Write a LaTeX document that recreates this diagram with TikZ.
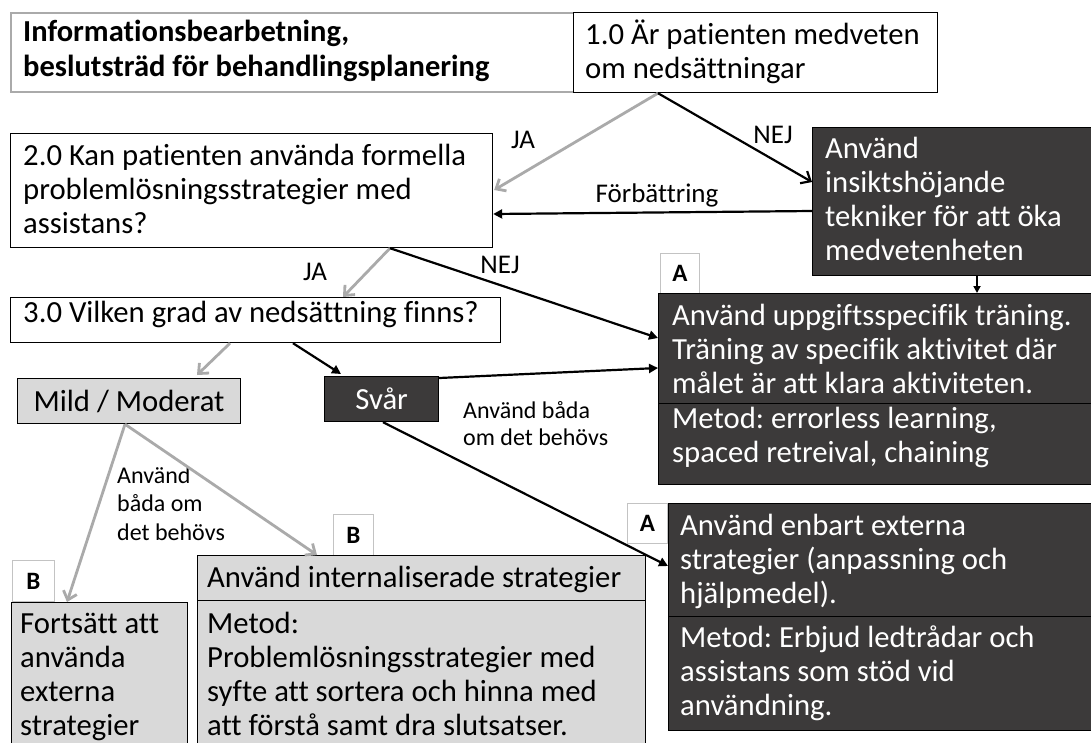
\documentclass[tikz,border=0pt]{standalone}
\usepackage{fontspec}
\setmainfont{Carlito}[Ligatures={NoCommon}]
\usetikzlibrary{arrows.meta,calc}
\definecolor{dk}{RGB}{60,58,58}
\definecolor{lg}{RGB}{217,217,217}
\definecolor{ga}{RGB}{170,170,170}
\definecolor{tg}{RGB}{195,195,195}
\newcommand\tstr{\rule{0pt}{27pt}}
\newcommand\sstr{\rule{0pt}{22pt}}
\frenchspacing
\begin{document}
\begin{tikzpicture}[x=1pt,y=-1pt,
 wbox/.style={draw=black, line width=1.2pt, fill=white, inner sep=0, anchor=north west},
 tbox/.style={draw=ga, line width=1.5pt, fill=white, inner sep=0, anchor=north west},
 dbox/.style={draw=black, line width=1.2pt, fill=dk, inner sep=0, anchor=north west},
 lbox/.style={draw=black, line width=1.2pt, fill=lg, inner sep=0, anchor=north west},
 tag/.style={draw=tg, line width=1pt, fill=white, inner sep=0, anchor=north west, font=\fontsize{25}{28}\selectfont\bfseries},
 txt/.style={anchor=north west, inner sep=0, align=left, font=\fontsize{30.7}{34}\selectfont},
 wtxt/.style={txt, text=white},
 lab/.style={inner sep=0, font=\fontsize{27}{30}\selectfont},
 slab/.style={anchor=north west, inner sep=0, align=left, font=\fontsize{24}{27.5}\selectfont},
 blk/.style={draw=black, line width=2.2pt, -{Triangle[length=9pt,width=9pt]}},
 blv/.style={draw=black, line width=2.2pt, -{Straight Barb[length=8pt,width=14pt]}},
 gry/.style={draw=ga, line width=2.8pt, -{Straight Barb[length=8pt,width=14pt]}},
]
\clip (0,0) rectangle (1091,742);
\fill[white] (0,0) rectangle (1091,742);

% boxes
\node[tbox, minimum width=563, minimum height=79] (title) at (10,12) {};
\node[txt, font=\fontsize{30.5}{35}\selectfont\bfseries] (titletext) at (23,14) {\tstr Informationsbearbetning,\\beslutsträd för behandlingsplanering};

\node[wbox, minimum width=364, minimum height=80] (q1) at (573,12) {};
\node[txt] (q1text) at (585,17) {\tstr 1.0 Är patienten medveten\\om nedsättningar};

\node[wbox, minimum width=482, minimum height=114] (q2) at (10,133) {};
\node[txt] (q2text) at (23,138) {\tstr 2.0 Kan patienten använda formella\\problemlösningsstrategier med\\assistans?};

\node[dbox, minimum width=280, minimum height=148] (d1) at (812,127) {};
\node[wtxt] (d1text) at (825,131) {\tstr Använd\\insiktshöjande\\tekniker för att öka\\medvetenheten};

\node[tag, minimum width=39, minimum height=40] (tagA1) at (660,253) {A};
\node[dbox, minimum width=434, minimum height=110] (d2) at (658,293) {};
\node[dbox, minimum width=434, minimum height=81] (d2b) at (658,403) {};
\node[wtxt] (d2text) at (672,298) {\tstr Använd uppgiftsspecifik träning.\\Träning av specifik aktivitet där\\målet är att klara aktiviteten.};
\node[wtxt] (d2btext) at (672,401) {\tstr Metod: errorless learning,\\spaced retreival, chaining};

\node[wbox, minimum width=490, minimum height=45] (q3) at (10,297) {};
\node[txt] (q3text) at (23,295) {\tstr 3.0 Vilken grad av nedsättning finns?};

\node[lbox, minimum width=223, minimum height=45, font=\fontsize{30.7}{34}\selectfont] (mild) at (17,378) {Mild / Moderat};
\node[dbox, minimum width=114, minimum height=45, text=white, font=\fontsize{30.7}{34}\selectfont] (svar) at (324,376) {Svår};

\node[tag, minimum width=42, minimum height=41] (tagB1) at (12,560) {B};
\node[lbox, minimum width=176, minimum height=160] (fort) at (11,602) {};
\node[txt] (forttext) at (20,606) {\tstr Fortsätt att\\använda\\externa\\strategier};

\node[tag, minimum width=40, minimum height=41] (tagB2) at (333,514) {B};
\node[lbox, minimum width=448, minimum height=45] (intl) at (197,555) {};
\node[txt] (intltext) at (207,560) {\tstr Använd internaliserade strategier};
\node[lbox, minimum width=448, minimum height=160] (metod) at (197,600) {};
\node[txt] (metodtext) at (207,606) {\tstr Metod:\\Problemlösningsstrategier med\\syfte att sortera och hinna med\\att förstå samt dra slutsatser.};

\node[tag, minimum width=40, minimum height=40] (tagA2) at (627,503) {A};
\node[dbox, minimum width=424, minimum height=113] (d3) at (668,503) {};
\node[dbox, minimum width=424, minimum height=114] (d3b) at (668,616) {};
\node[wtxt] (d3text) at (680,508) {\tstr Använd enbart externa\\strategier (anpassning och\\hjälpmedel).};
\node[wtxt] (d3btext) at (680,620) {\tstr Metod: Erbjud ledtrådar och\\assistans som stöd vid\\användning.};

% labels
\node[lab] (ja1) at (523,140) {JA};
\node[lab] (nej1) at (773,135) {NEJ};
\node[lab] (forb) at (657,195) {Förbättring};
\node[lab] (ja2) at (315,272) {JA};
\node[lab] (nej2) at (500,265) {NEJ};
\node[slab] (both1) at (463,396) {\sstr Använd båda\\om det behövs};
\node[slab, font=\fontsize{24}{28.5}\selectfont] (both2) at (117,461) {\sstr Använd\\båda om\\det behövs};

% connectors
\draw[gry] ($(q1.south west)+(85,0)$) -- ($(q2.north east)+(1,57)$);
\draw[blv] ($(q1.south west)+(85,0)$) -- ($(d1.north west)+(0,55)$);
\draw[blk] ($(d1.north west)+(0,84)$) -- ($(q2.north east)+(0,81)$);
\draw[gry] ($(q2.south west)+(380,0)$) -- ($(q3.north west)+(333,0)$);
\draw[blk] ($(q2.south west)+(380,0)$) -- ($(d2.north west)+(0,45)$);
\draw[gry] ($(q3.south west)+(220,0)$) -- ($(mild.north west)+(180,-3)$);
\draw[blk] ($(q3.south west)+(283,0)$) -- ($(svar.north west)+(17,-2)$);
\draw[blk] ($(svar.north east)+(0,2)$) -- ($(d2.north west)+(0,75)$);
\draw[blk] ($(svar.south west)+(59,0)$) -- ($(d3.north west)+(0,63)$);
\draw[gry] ($(mild.south west)+(108,0)$) -- ($(fort.north west)+(56,0)$);
\draw[gry] ($(mild.south west)+(108,0)$) -- ($(intl.north west)+(120,0)$);
\draw[blk, -{Triangle[length=7pt,width=7pt]}, line width=1.8pt] ($(d1.south west)+(165,0)$) -- ($(d2.north west)+(319,0)$);
\end{tikzpicture}
\end{document}
